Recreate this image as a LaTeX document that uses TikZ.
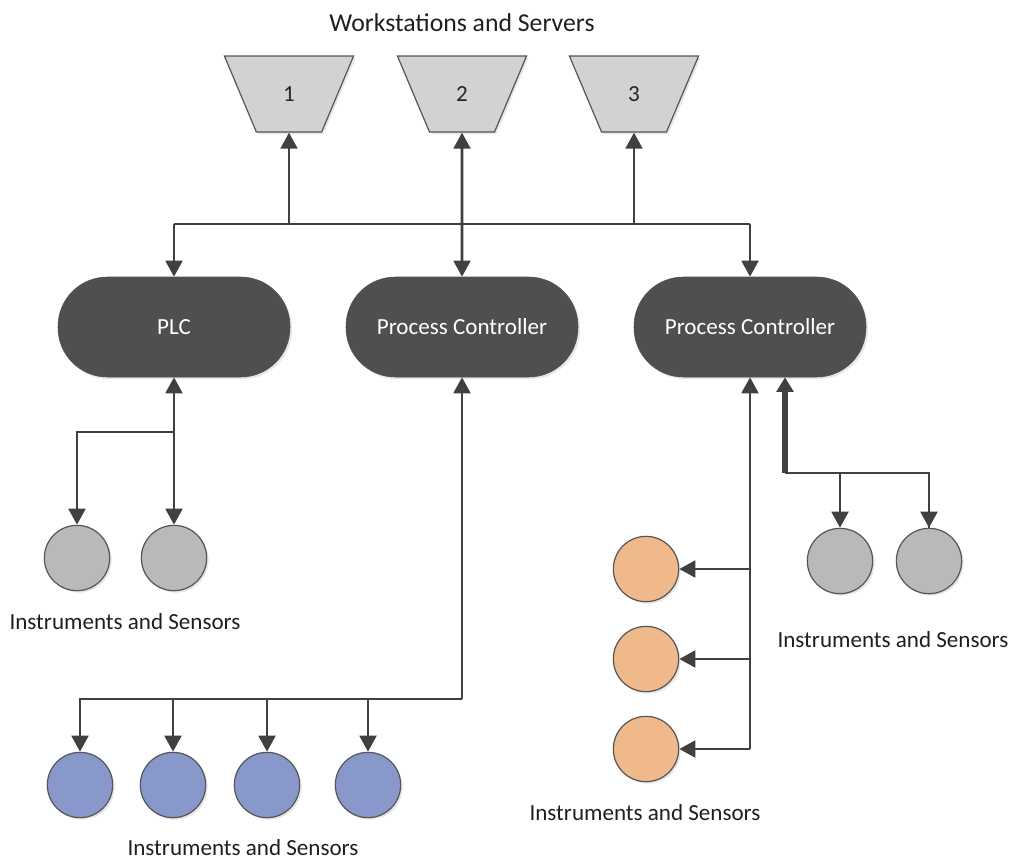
\documentclass[tikz,border=0pt]{standalone}
\usepackage{fontspec}
\setmainfont{Carlito}
\usetikzlibrary{arrows.meta,shapes.geometric,shadows}
\definecolor{linec}{HTML}{404040}
\definecolor{pillc}{HTML}{4F4F4F}
\definecolor{grayc}{HTML}{B9B9B9}
\definecolor{orangec}{HTML}{F0B98C}
\definecolor{bluec}{HTML}{8898CB}
\definecolor{trapc}{HTML}{D2D2D2}
\definecolor{edgec}{HTML}{555555}
\tikzset{
  shad/.style={drop shadow={opacity=0.2,shadow xshift=1.5pt,shadow yshift=-1.5pt}},
  pill/.style={rectangle,rounded corners=37pt,minimum width=174pt,minimum height=75pt,fill=pillc,draw=pillc,text=white,font=\fontsize{17.3}{19}\selectfont,shad},
  station/.style={trapezium,trapezium stretches=true,shape border rotate=180,trapezium angle=67,minimum width=97pt,minimum height=57pt,fill=trapc,draw=edgec,line width=0.9pt,text=black!85,font=\fontsize{17.3}{19}\selectfont,shad},
  dev/.style={circle,minimum size=49pt,inner sep=0pt,draw=edgec,line width=0.9pt,shad},
  lbl/.style={text=black!88,font=\fontsize{17.3}{19}\selectfont},
  conn/.style={draw=linec,line width=2.2pt},
  arr/.style={conn,-{Triangle[length=12pt,width=12.5pt]}},
  darr/.style={conn,{Triangle[length=12pt,width=12.5pt]}-{Triangle[length=12pt,width=12.5pt]}},
  thickarr/.style={draw=linec,line width=3.8pt,-{Triangle[length=11pt,width=12.5pt]}},
}
\begin{document}
\begin{tikzpicture}[x=0.75pt,y=-0.75pt]
\useasboundingbox (0,0) rectangle (1011,861);
% title
\node[lbl,font=\fontsize{19.3}{21}\selectfont] (title) at (462,23) {Workstations and Servers};
% stations
\node[station] (t1) at (289,94) {1};
\node[station] (t2) at (462,94) {2};
\node[station] (t3) at (634,94) {3};
% controllers
\node[pill] (plc) at (174,327) {PLC};
\node[pill] (pc2) at (462,327) {Process Controller};
\node[pill] (pc3) at (750,327) {Process Controller};
% PLC devices
\node[dev,fill=grayc] (g1) at (77,558) {};
\node[dev,fill=grayc] (g2) at (174,558) {};
\node[lbl] (lg) at (125,622) {Instruments and Sensors};
% PC2 devices
\node[dev,fill=bluec] (b1) at (80,785) {};
\node[dev,fill=bluec] (b2) at (173,785) {};
\node[dev,fill=bluec] (b3) at (267,785) {};
\node[dev,fill=bluec] (b4) at (368,785) {};
\node[lbl] (lb) at (243,848) {Instruments and Sensors};
% PC3 devices
\node[dev,fill=orangec] (o1) at (646,569) {};
\node[dev,fill=orangec] (o2) at (646,659) {};
\node[dev,fill=orangec] (o3) at (646,749) {};
\node[lbl] (lo) at (645,813) {Instruments and Sensors};
\node[dev,fill=grayc] (r1) at (840,561) {};
\node[dev,fill=grayc] (r2) at (929,561) {};
\node[lbl] (lr) at (893,640) {Instruments and Sensors};
% junction coordinates
\coordinate (bus) at (0,224);
\coordinate (plcj) at (174,432);
\coordinate (bj) at (0,699);
\coordinate (pc3j) at (785,473);
% top bus
\draw[conn] (plc.north |- bus) -- (pc3.north |- bus);
\draw[arr] (plc.north |- bus) -- (plc.north);
\draw[arr] (pc3.north |- bus) -- (pc3.north);
\draw[arr] (t1.south |- bus) -- (t1.south);
\draw[arr] (t3.south |- bus) -- (t3.south);
\draw[darr] (t2.south) -- (pc2.north);
% PLC
\draw[arr] (plcj) -- (plc.south);
\draw[arr] (plcj) -- (g2.north);
\draw[arr] (plcj) -| (g1.north);
% PC2
\draw[arr] (pc2.south |- bj) -- (pc2.south);
\draw[arr] (pc2.south |- bj) -| (b1.north);
\draw[arr] (b2.north |- bj) -- (b2.north);
\draw[arr] (b3.north |- bj) -- (b3.north);
\draw[arr] (b4.north |- bj) -- (b4.north);
% PC3 orange
\draw[arr] (o3.east -| pc3.south) -- (pc3.south);
\draw[arr] (o1.east -| pc3.south) -- (o1.east);
\draw[arr] (o2.east -| pc3.south) -- (o2.east);
\draw[arr] (o3.east -| pc3.south) -- (o3.east);
% PC3 gray
\draw[conn] (pc3j) -| (r2.north);
\draw[arr] (r2.north |- pc3j) -- (r2.north);
\draw[arr] (r1.north |- pc3j) -- (r1.north);
\draw[thickarr] (pc3j) -- (pc3j |- pc3.south);
\end{tikzpicture}
\end{document}
